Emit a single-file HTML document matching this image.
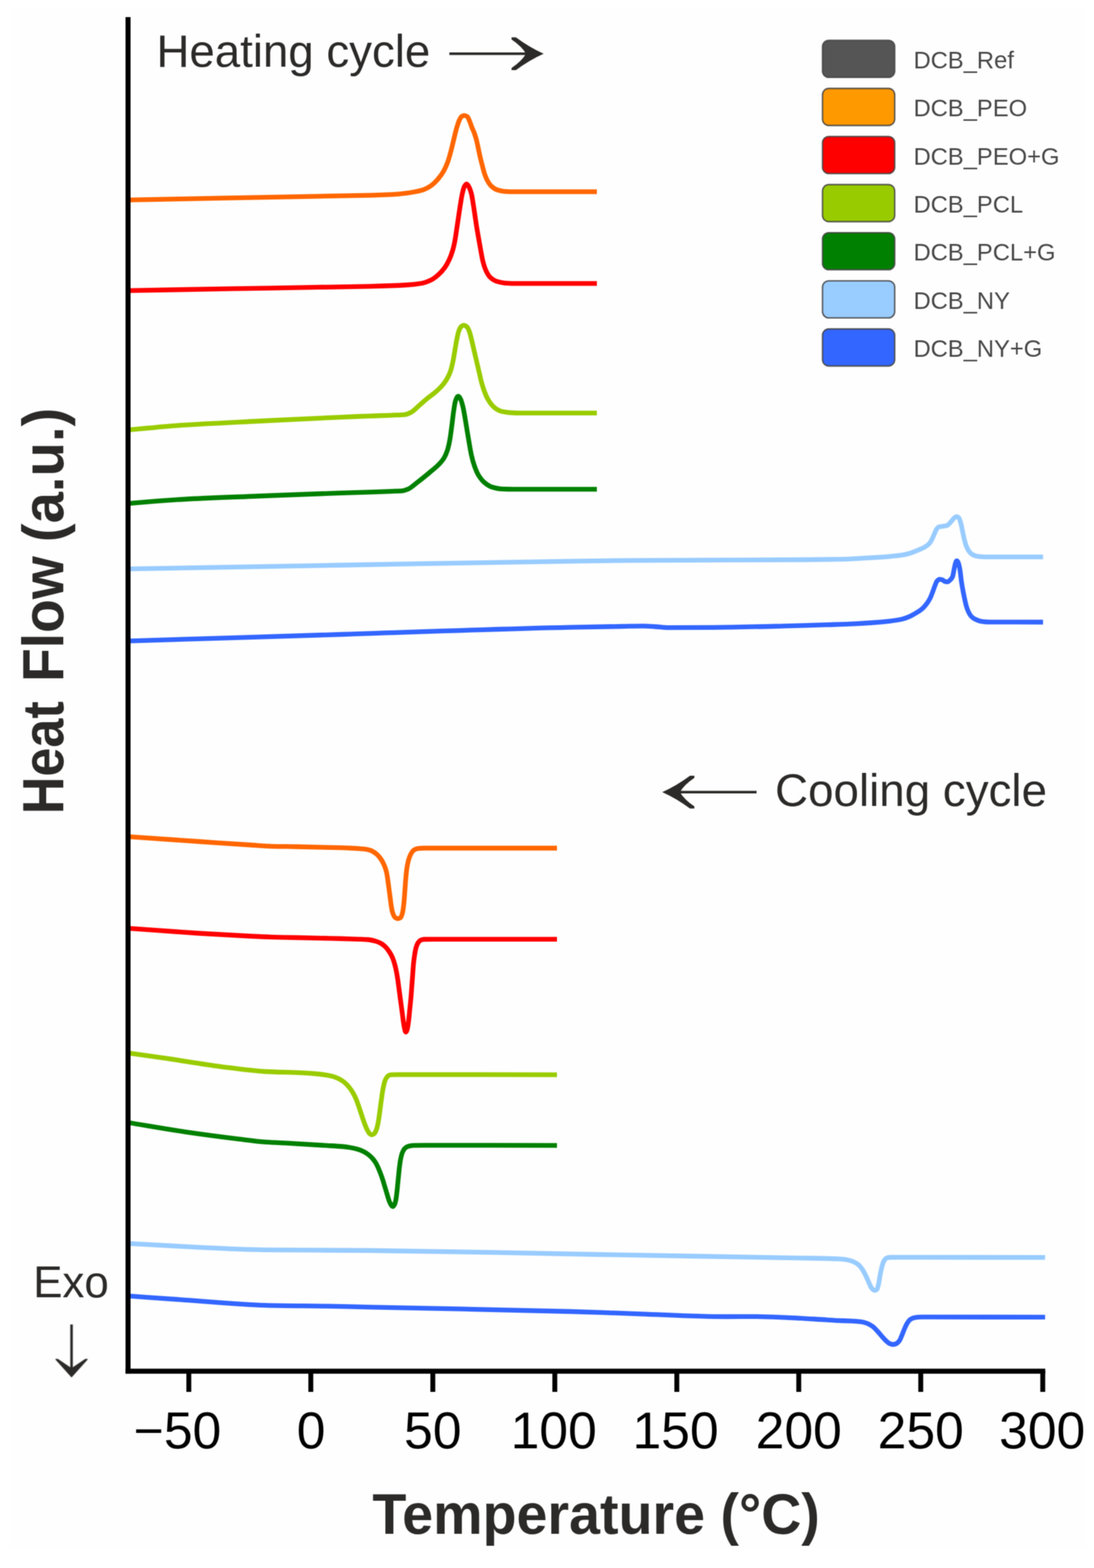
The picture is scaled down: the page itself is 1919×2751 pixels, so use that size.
<!DOCTYPE html>
<html lang="en"><head><meta charset="utf-8"><title>Heat Flow (a.u.) / Temperature (°C)</title>
<style>
html,body{margin:0;padding:0;background:#fff;}
body{width:1919px;height:2751px;overflow:hidden;}
svg{display:block;}
text{font-family:"Liberation Sans",sans-serif;}
.t{fill:#2b2a29;}
.lg{fill:#484848;font-size:41.7px;}
.tk{fill:#000;font-size:90.6px;text-anchor:middle;}
.b{font-weight:bold;}
.c{fill:none;stroke-width:8.3;stroke-linecap:butt;stroke-linejoin:round;}
</style></head><body>
<svg width="1919" height="2751" viewBox="0 0 1919 2751">
<rect x="0" y="0" width="1919" height="2751" fill="#fff"/>
<rect x="15" y="12" width="1892" height="2704" fill="#fefefe"/>
<defs><filter id="soft" x="0" y="0" width="1919" height="2751" filterUnits="userSpaceOnUse" color-interpolation-filters="sRGB"><feConvolveMatrix order="3" kernelMatrix="1 2 1 2 4 2 1 2 1" divisor="16" edgeMode="duplicate" preserveAlpha="false"/></filter></defs>
<g filter="url(#soft)">

<g class="c">
<path stroke="#FF6600" d="M224.6 350.8C283.1 349.7 341.5 348.5 400.0 347.4C453.3 346.4 506.7 345.3 560.0 344.3C590.0 343.7 620.0 343.4 650.0 342.6C666.7 342.1 683.3 341.5 700.0 340.3C708.3 339.7 716.7 338.4 725.0 337.0C730.0 336.2 735.0 335.3 740.0 333.8C745.0 332.3 750.0 329.7 755.0 326.5C759.3 323.7 763.7 319.4 768.0 314.5C771.3 310.8 774.7 306.3 778.0 300.5C780.3 296.5 782.6 291.6 784.9 285.5C786.9 280.2 788.9 272.9 790.9 265.5C792.6 259.4 794.2 251.7 795.9 245.0C797.6 238.3 799.2 230.6 800.9 225.0C802.6 219.4 804.2 213.8 805.9 210.5C807.2 207.8 808.6 205.1 809.9 204.3C811.4 203.4 812.9 202.6 814.4 202.6C816.2 202.6 818.1 203.5 819.9 204.8C821.2 205.7 822.6 209.9 823.9 213.0C825.2 216.1 826.6 220.5 827.9 223.9C829.3 227.5 830.8 230.1 832.2 234.0C833.3 237.1 834.5 240.7 835.6 245.0C836.6 248.8 837.6 253.9 838.6 258.5C839.7 263.6 840.8 269.3 841.9 274.0C843.2 279.8 844.6 284.8 845.9 289.9C847.2 295.0 848.6 300.9 849.9 304.8C851.6 309.7 853.2 313.8 854.9 316.8C857.2 321.0 859.6 324.5 861.9 326.6C865.2 329.6 868.5 331.9 871.8 333.0C876.1 334.4 880.5 335.5 884.8 335.8C889.9 336.1 894.9 336.4 900.0 336.4C949.0 336.4 998.0 336.4 1047.0 336.4"/>
<path stroke="#FF0000" d="M224.6 509.8C283.1 508.8 341.5 507.7 400.0 506.7C453.3 505.8 506.7 504.8 560.0 503.9C590.0 503.4 620.0 503.0 650.0 502.3C670.8 501.8 691.6 501.2 712.4 500.0C721.6 499.5 730.8 498.6 740.0 497.0C745.0 496.1 750.0 494.1 755.0 491.8C759.3 489.8 763.7 486.5 768.0 482.8C772.0 479.4 776.0 475.3 780.0 469.8C782.6 466.2 785.3 461.5 787.9 455.8C789.9 451.5 791.9 446.5 793.9 439.8C795.4 434.7 796.9 428.0 798.4 419.9C799.4 414.5 800.4 406.6 801.4 399.9C802.4 393.2 803.4 386.6 804.4 379.9C805.4 373.2 806.4 366.1 807.4 359.9C808.6 352.7 809.7 345.0 810.9 339.9C812.1 334.8 813.2 329.8 814.4 327.5C815.4 325.5 816.4 324.0 817.4 323.3C817.7 323.1 818.1 322.8 818.4 322.8C818.7 322.8 819.1 323.1 819.4 323.3C820.4 324.0 821.4 325.7 822.4 327.5C823.9 330.2 825.4 334.2 826.9 339.9C828.1 344.3 829.2 352.7 830.4 359.9C831.4 366.1 832.4 373.2 833.4 379.9C834.4 386.6 835.4 393.7 836.4 399.9C837.6 407.1 838.7 413.3 839.9 419.9C841.1 426.5 842.2 433.6 843.4 439.8C844.7 446.9 846.1 454.8 847.4 459.8C849.2 466.6 851.1 472.0 852.9 475.8C855.2 480.5 857.5 484.4 859.8 486.6C863.1 489.8 866.5 492.0 869.8 493.2C874.8 494.9 879.8 496.2 884.8 496.6C889.9 497.0 894.9 497.4 900.0 497.4C949.0 497.4 998.0 497.4 1047.0 497.4"/>
<path stroke="#99CC00" d="M224.6 754.4C236.4 753.3 248.2 752.1 260.0 751.0C273.3 749.8 286.7 748.4 300.0 747.4C310.0 746.6 320.0 745.9 330.0 745.3C370.0 742.8 410.0 741.0 450.0 739.0C500.0 736.5 550.0 733.9 600.0 731.8C616.7 731.1 633.3 730.4 650.0 729.8C663.3 729.3 676.7 729.0 690.0 728.4C697.0 728.1 703.9 728.0 710.9 727.3C714.4 726.9 717.9 725.0 721.4 723.2C726.6 720.5 731.8 714.2 737.0 709.8C742.2 705.4 747.5 700.8 752.7 696.6C755.8 694.1 758.9 692.1 762.0 689.5C766.0 686.2 770.0 682.7 774.0 678.3C777.0 675.0 780.0 671.4 783.0 666.5C785.3 662.7 787.7 658.4 790.0 651.9C791.5 647.8 792.9 641.7 794.4 634.9C795.6 629.5 796.7 621.6 797.9 614.9C799.1 608.2 800.2 600.5 801.4 594.9C802.6 589.3 803.7 583.5 804.9 580.5C806.2 577.0 807.6 574.1 808.9 573.0C810.4 571.7 811.9 570.6 813.4 570.6C815.2 570.6 817.1 571.8 818.9 573.3C820.4 574.5 821.9 578.1 823.4 582.0C824.6 585.0 825.7 590.3 826.9 594.9C828.1 599.5 829.2 604.9 830.4 609.9C831.6 614.9 832.7 619.9 833.9 624.9C835.1 629.9 836.2 634.9 837.4 639.9C838.6 644.9 839.7 649.9 840.9 654.9C842.1 659.9 843.2 665.6 844.4 669.9C845.9 675.5 847.4 680.3 848.9 684.5C850.9 690.0 852.9 695.1 854.9 698.8C857.2 703.2 859.6 706.8 861.9 709.5C864.6 712.6 867.2 715.3 869.9 717.0C873.2 719.1 876.5 721.0 879.8 721.8C884.8 723.0 889.8 723.7 894.8 724.0C899.9 724.3 904.9 724.6 910.0 724.6C955.7 724.6 1001.3 724.6 1047.0 724.6"/>
<path stroke="#008000" d="M224.6 883.4C236.4 882.4 248.2 881.3 260.0 880.4C273.3 879.3 286.7 878.3 300.0 877.4C310.0 876.7 320.0 876.0 330.0 875.5C370.0 873.4 410.0 872.1 450.0 870.5C500.0 868.5 550.0 866.4 600.0 864.8C616.7 864.3 633.3 863.9 650.0 863.3C663.3 862.9 676.7 862.4 690.0 861.8C695.2 861.6 700.5 861.5 705.7 861.1C709.2 860.8 712.6 859.4 716.1 858.0C721.3 855.8 726.6 850.5 731.8 846.5C738.8 841.2 745.7 835.5 752.7 829.7C757.9 825.3 763.2 821.5 768.4 816.2C771.9 812.7 775.3 809.3 778.8 803.6C780.9 800.2 783.0 795.6 785.1 789.0C786.5 784.6 787.9 778.0 789.3 770.2C790.5 763.5 791.7 753.3 792.9 744.1C793.8 737.5 794.6 729.0 795.5 723.1C796.6 715.8 797.6 707.8 798.7 704.3C799.9 700.3 801.2 697.0 802.4 696.0C802.9 695.6 803.3 695.2 803.8 695.2C804.3 695.2 804.7 695.6 805.2 696.0C806.2 696.8 807.1 698.5 808.1 700.5C809.5 703.4 810.9 708.9 812.3 714.8C814.0 722.1 815.8 734.0 817.5 744.1C819.2 754.2 821.0 765.5 822.7 775.4C824.1 783.4 825.5 792.3 826.9 798.4C828.6 806.0 830.4 812.3 832.1 817.2C834.5 824.1 837.0 830.0 839.4 833.9C842.9 839.6 846.5 843.9 850.0 846.8C854.0 850.1 858.0 852.9 862.0 854.2C868.0 856.1 874.0 857.5 880.0 857.8C886.7 858.1 893.3 858.3 900.0 858.3C949.0 858.3 998.0 858.3 1047.0 858.3"/>
<path stroke="#99CCFF" d="M224.6 998.1C349.7 995.9 474.9 993.7 600.0 991.5C740.0 989.1 880.0 986.3 1020.0 984.4C1046.7 984.0 1073.3 983.6 1100.0 983.4C1204.3 982.6 1308.5 982.8 1412.8 982.0C1435.2 981.8 1457.6 981.6 1480.0 981.1C1496.7 980.7 1513.3 979.4 1530.0 978.4C1540.0 977.8 1550.0 977.2 1560.0 976.3C1566.7 975.7 1573.3 975.2 1580.0 974.2C1585.0 973.5 1590.0 972.3 1595.0 970.9C1600.0 969.5 1605.0 967.5 1610.0 965.4C1614.0 963.8 1617.9 962.2 1621.9 959.9C1624.6 958.4 1627.2 956.7 1629.9 953.9C1631.6 952.1 1633.2 949.0 1634.9 945.9C1636.2 943.4 1637.6 939.8 1638.9 936.9C1640.2 934.0 1641.6 930.1 1642.9 928.3C1644.2 926.5 1645.6 924.8 1646.9 924.4C1649.2 923.7 1651.6 923.7 1653.9 923.3C1656.2 922.9 1658.6 922.7 1660.9 922.0C1662.6 921.5 1664.2 919.6 1665.9 918.0C1667.6 916.4 1669.2 913.9 1670.9 912.0C1672.2 910.5 1673.6 908.5 1674.9 907.7C1675.9 907.1 1676.9 906.4 1677.9 906.4C1679.2 906.4 1680.6 907.3 1681.9 908.5C1683.1 909.5 1684.2 914.0 1685.4 918.0C1686.4 921.4 1687.4 927.3 1688.4 931.9C1689.4 936.5 1690.4 941.9 1691.4 945.9C1692.6 950.5 1693.7 955.0 1694.9 957.9C1696.6 962.0 1698.2 965.3 1699.9 967.4C1701.9 969.9 1703.8 971.9 1705.8 973.0C1708.8 974.6 1711.8 975.8 1714.8 976.2C1719.9 976.8 1724.9 977.2 1730.0 977.2C1763.2 977.2 1796.4 977.2 1829.6 977.2"/>
<path stroke="#3366FF" d="M224.6 1124.6C349.7 1120.7 474.9 1116.9 600.0 1113.0C733.3 1108.9 866.7 1103.4 1000.0 1100.6C1030.0 1100.0 1060.0 1099.5 1090.0 1099.0C1102.7 1098.8 1115.3 1098.3 1128.0 1098.3C1135.3 1098.3 1142.7 1099.0 1150.0 1099.5C1157.3 1100.0 1164.7 1101.2 1172.0 1101.2C1198.0 1101.2 1224.0 1101.0 1250.0 1100.8C1291.5 1100.5 1333.0 1099.4 1374.5 1098.4C1399.7 1097.8 1424.8 1097.0 1450.0 1096.2C1466.7 1095.6 1483.3 1095.1 1500.0 1094.3C1510.0 1093.8 1520.0 1093.2 1530.0 1092.5C1540.0 1091.8 1550.0 1090.9 1560.0 1089.8C1566.7 1089.0 1573.3 1088.2 1580.0 1086.8C1585.0 1085.7 1590.0 1083.9 1595.0 1081.8C1599.3 1080.0 1603.7 1077.5 1608.0 1074.8C1611.3 1072.8 1614.6 1070.7 1617.9 1067.8C1620.6 1065.5 1623.2 1062.4 1625.9 1058.8C1627.9 1056.1 1629.9 1052.9 1631.9 1048.8C1633.2 1046.1 1634.6 1042.3 1635.9 1038.8C1637.2 1035.3 1638.6 1031.1 1639.9 1027.8C1641.1 1024.9 1642.2 1021.2 1643.4 1019.8C1644.9 1018.0 1646.4 1016.3 1647.9 1016.3C1649.6 1016.3 1651.2 1016.7 1652.9 1017.2C1654.6 1017.7 1656.2 1020.0 1657.9 1020.3C1659.2 1020.6 1660.6 1020.8 1661.9 1020.8C1663.6 1020.8 1665.2 1018.9 1666.9 1017.3C1668.2 1016.0 1669.6 1014.8 1670.9 1011.8C1671.7 1009.9 1672.6 1003.8 1673.4 999.9C1674.2 996.0 1675.1 991.1 1675.9 988.5C1676.5 986.7 1677.0 984.8 1677.6 984.3C1677.9 984.1 1678.1 983.8 1678.4 983.8C1678.7 983.8 1678.9 984.1 1679.2 984.3C1679.9 984.9 1680.7 986.5 1681.4 988.5C1682.2 990.7 1683.1 995.1 1683.9 999.9C1684.7 1004.7 1685.6 1014.1 1686.4 1019.8C1687.2 1025.5 1688.1 1030.2 1688.9 1034.8C1689.9 1040.3 1690.9 1045.2 1691.9 1049.8C1692.9 1054.4 1693.9 1059.4 1694.9 1062.8C1696.2 1067.3 1697.6 1071.1 1698.9 1073.8C1700.5 1077.1 1702.2 1079.8 1703.8 1081.5C1706.1 1083.9 1708.5 1085.5 1710.8 1086.6C1713.8 1088.1 1716.8 1089.3 1719.8 1089.8C1724.9 1090.6 1729.9 1091.3 1735.0 1091.3C1766.5 1091.5 1798.1 1091.4 1829.6 1091.5"/>
<path stroke="#FF6600" d="M224.6 1467.9C266.4 1470.8 308.2 1473.7 350.0 1476.5C380.0 1478.5 410.0 1480.6 440.0 1482.5C452.3 1483.3 464.7 1484.5 477.0 1484.8C491.3 1485.2 505.7 1485.2 520.0 1485.5C540.0 1485.9 560.0 1486.4 580.0 1486.9C591.7 1487.2 603.3 1487.5 615.0 1488.0C620.0 1488.2 625.0 1488.5 630.0 1488.8C633.3 1489.0 636.7 1489.2 640.0 1489.6C643.3 1490.0 646.7 1490.9 650.0 1492.0C653.3 1493.1 656.7 1495.4 660.0 1498.0C662.7 1500.1 665.3 1503.2 668.0 1507.0C670.0 1509.8 671.9 1513.3 673.9 1517.9C675.2 1521.0 676.6 1524.4 677.9 1529.9C678.7 1533.3 679.6 1539.3 680.4 1544.9C681.1 1549.4 681.7 1554.9 682.4 1559.9C683.1 1564.9 683.7 1569.9 684.4 1574.9C685.1 1579.9 685.7 1586.0 686.4 1589.9C687.2 1594.8 688.1 1599.4 688.9 1601.8C690.2 1605.6 691.6 1608.6 692.9 1609.6C694.6 1610.8 696.2 1611.8 697.9 1611.8C699.6 1611.8 701.2 1610.9 702.9 1609.6C704.1 1608.7 705.2 1604.8 706.4 1599.8C707.2 1596.3 708.1 1588.4 708.9 1579.9C709.4 1574.8 709.9 1566.6 710.4 1559.9C710.9 1553.2 711.4 1545.3 711.9 1539.9C712.6 1532.7 713.2 1526.1 713.9 1521.9C714.9 1515.6 715.9 1511.2 716.9 1507.9C718.2 1503.5 719.6 1500.3 720.9 1498.0C722.6 1495.1 724.2 1492.6 725.9 1491.5C728.2 1490.0 730.6 1488.8 732.9 1488.6C736.9 1488.2 741.0 1488.0 745.0 1488.0C822.3 1488.0 899.7 1488.0 977.0 1488.0"/>
<path stroke="#FF0000" d="M224.6 1628.7C266.4 1631.6 308.2 1634.9 350.0 1637.5C380.0 1639.3 410.0 1641.1 440.0 1642.5C452.3 1643.1 464.7 1643.7 477.0 1644.1C491.3 1644.5 505.7 1644.7 520.0 1645.0C540.0 1645.4 560.0 1645.8 580.0 1646.3C591.7 1646.6 603.3 1646.9 615.0 1647.3C620.0 1647.5 625.0 1647.6 630.0 1647.8C635.0 1648.0 640.0 1648.1 645.0 1648.5C649.3 1648.8 653.7 1649.9 658.0 1651.0C661.3 1651.9 664.7 1653.2 668.0 1655.0C670.6 1656.4 673.3 1658.5 675.9 1661.0C678.2 1663.2 680.6 1666.4 682.9 1669.9C684.7 1672.7 686.6 1675.7 688.4 1679.9C689.7 1683.0 691.1 1687.1 692.4 1691.9C693.4 1695.5 694.4 1699.8 695.4 1704.9C696.2 1709.1 697.1 1714.3 697.9 1719.9C698.6 1724.4 699.2 1729.9 699.9 1734.9C700.6 1739.9 701.2 1744.9 701.9 1749.9C702.6 1754.9 703.2 1759.8 703.9 1764.8C704.6 1769.8 705.2 1774.8 705.9 1779.8C706.6 1784.8 707.2 1790.6 707.9 1794.8C708.6 1799.0 709.2 1803.1 709.9 1805.8C710.3 1807.6 710.8 1809.6 711.2 1810.2C711.4 1810.5 711.7 1810.8 711.9 1810.8C712.1 1810.8 712.4 1810.5 712.6 1810.2C713.2 1809.5 713.8 1807.9 714.4 1805.8C715.2 1802.9 716.1 1796.4 716.9 1789.8C717.6 1784.6 718.2 1776.4 718.9 1769.8C719.6 1763.2 720.2 1757.6 720.9 1749.9C721.4 1744.2 721.9 1736.6 722.4 1729.9C722.9 1723.2 723.4 1716.6 723.9 1709.9C724.4 1703.2 724.9 1694.8 725.4 1689.9C726.1 1683.4 726.7 1679.0 727.4 1674.9C728.2 1669.8 729.1 1664.7 729.9 1662.0C731.1 1658.2 732.2 1655.7 733.4 1654.0C734.9 1651.9 736.4 1650.1 737.9 1649.5C740.2 1648.6 742.6 1648.1 744.9 1648.0C749.9 1647.9 755.0 1647.8 760.0 1647.8C832.3 1647.8 904.7 1647.8 977.0 1647.8"/>
<path stroke="#99CC00" d="M224.6 1847.3C247.6 1850.6 270.6 1853.8 293.6 1857.2C324.8 1861.8 356.1 1867.3 387.3 1871.3C413.3 1874.6 439.3 1878.6 465.3 1880.0C486.1 1881.1 506.9 1881.2 527.7 1882.2C536.8 1882.6 545.9 1883.2 555.0 1884.0C560.0 1884.4 565.0 1885.1 570.0 1885.8C574.0 1886.4 578.0 1887.0 582.0 1888.0C585.7 1888.9 589.3 1890.3 593.0 1892.0C596.3 1893.5 599.7 1895.5 603.0 1898.0C606.0 1900.2 608.9 1903.4 611.9 1906.9C614.2 1909.7 616.6 1913.0 618.9 1916.9C620.7 1920.0 622.6 1923.7 624.4 1927.9C625.9 1931.3 627.4 1935.7 628.9 1939.9C630.2 1943.7 631.6 1947.9 632.9 1951.9C634.2 1955.9 635.6 1960.1 636.9 1963.9C638.2 1967.7 639.6 1971.6 640.9 1974.9C642.2 1978.2 643.6 1981.5 644.9 1983.8C646.2 1986.1 647.6 1988.5 648.9 1989.5C649.9 1990.2 650.9 1991.0 651.9 1991.0C653.2 1991.0 654.6 1990.3 655.9 1989.5C657.2 1988.7 658.6 1986.0 659.9 1982.9C660.9 1980.6 661.9 1976.5 662.9 1971.9C663.6 1968.8 664.2 1964.3 664.9 1959.9C665.6 1955.5 666.2 1949.9 666.9 1944.9C667.6 1939.9 668.2 1934.7 668.9 1929.9C669.6 1925.1 670.2 1919.9 670.9 1915.9C671.7 1910.9 672.6 1906.2 673.4 1902.9C674.4 1899.0 675.4 1895.5 676.4 1893.5C677.7 1890.8 679.1 1888.7 680.4 1887.8C682.2 1886.6 684.1 1885.7 685.9 1885.6C690.6 1885.4 695.3 1885.3 700.0 1885.3C792.3 1885.3 884.7 1885.6 977.0 1885.7"/>
<path stroke="#008000" d="M224.6 1969.5C258.0 1974.9 291.4 1980.9 324.8 1985.8C356.0 1990.4 387.3 1994.5 418.5 1998.3C434.1 2000.2 449.7 2002.5 465.3 2003.6C480.9 2004.7 496.5 2005.2 512.1 2006.1C532.9 2007.3 553.7 2008.6 574.5 2009.9C583.0 2010.4 591.5 2010.8 600.0 2011.5C605.0 2011.9 610.0 2012.6 615.0 2013.5C619.3 2014.2 623.7 2015.2 628.0 2016.5C631.3 2017.5 634.7 2018.9 638.0 2020.5C640.6 2021.8 643.3 2023.5 645.9 2025.5C648.2 2027.3 650.6 2029.4 652.9 2031.9C654.9 2034.1 656.9 2036.7 658.9 2039.9C660.6 2042.6 662.2 2046.2 663.9 2049.9C665.2 2052.9 666.6 2056.3 667.9 2059.9C669.1 2063.0 670.2 2066.3 671.4 2069.9C672.4 2073.0 673.4 2076.6 674.4 2079.9C675.4 2083.2 676.4 2086.6 677.4 2089.9C678.4 2093.2 679.4 2096.7 680.4 2099.9C681.4 2103.1 682.4 2106.6 683.4 2108.9C684.4 2111.2 685.4 2113.4 686.4 2114.6C687.2 2115.6 688.1 2116.8 688.9 2116.8C689.9 2116.8 690.9 2115.4 691.9 2113.8C692.7 2112.5 693.6 2109.0 694.4 2104.9C695.1 2101.6 695.7 2095.7 696.4 2089.9C696.9 2085.6 697.4 2079.9 697.9 2074.9C698.4 2069.9 698.9 2064.7 699.4 2059.9C699.9 2055.1 700.4 2049.8 700.9 2045.9C701.6 2040.7 702.2 2036.1 702.9 2032.9C703.9 2028.1 704.9 2024.4 705.9 2022.0C707.2 2018.8 708.6 2016.3 709.9 2015.0C711.9 2013.1 713.9 2011.9 715.9 2011.3C718.9 2010.4 721.9 2009.7 724.9 2009.6C731.6 2009.4 738.3 2009.3 745.0 2009.3C822.3 2009.3 899.7 2009.5 977.0 2009.6"/>
<path stroke="#99CCFF" d="M224.6 2181.6C258.0 2183.4 291.4 2185.5 324.8 2187.1C371.6 2189.3 418.5 2192.3 465.3 2192.8C526.9 2193.5 588.4 2193.4 650.0 2194.0C783.3 2195.2 916.7 2198.7 1050.0 2201.0C1166.7 2203.0 1283.3 2205.0 1400.0 2207.1C1416.7 2207.4 1433.3 2207.6 1450.0 2208.0C1456.7 2208.2 1463.3 2208.4 1470.0 2208.7C1474.5 2208.9 1479.0 2209.2 1483.5 2209.8C1487.2 2210.3 1491.0 2211.3 1494.7 2212.6C1498.1 2213.8 1501.4 2215.7 1504.8 2218.2C1507.4 2220.2 1510.1 2223.5 1512.7 2227.2C1514.6 2229.8 1516.4 2233.6 1518.3 2237.3C1520.0 2240.7 1521.7 2244.8 1523.4 2248.5C1524.9 2251.8 1526.4 2256.1 1527.9 2258.3C1529.2 2260.2 1530.5 2262.1 1531.8 2262.8C1532.9 2263.4 1534.1 2264.0 1535.2 2264.0C1536.3 2264.0 1537.4 2263.2 1538.5 2262.0C1539.4 2261.0 1540.4 2256.1 1541.3 2251.9C1542.1 2248.4 1542.8 2242.5 1543.6 2238.4C1544.5 2233.4 1545.5 2228.6 1546.4 2224.9C1547.5 2220.4 1548.7 2215.9 1549.8 2213.7C1551.3 2210.8 1552.8 2208.4 1554.3 2207.7C1556.5 2206.7 1558.8 2206.0 1561.0 2206.0C1567.3 2205.9 1573.7 2205.9 1580.0 2205.9C1664.4 2205.9 1748.8 2206.1 1833.2 2206.2"/>
<path stroke="#3366FF" d="M224.6 2273.6C258.0 2276.0 291.4 2278.5 324.8 2280.8C371.6 2284.0 418.5 2289.0 465.3 2290.1C501.7 2291.0 538.1 2291.1 574.5 2291.7C599.7 2292.1 624.8 2292.8 650.0 2293.3C766.7 2295.8 883.3 2297.8 1000.0 2301.0C1041.7 2302.2 1083.3 2303.8 1125.0 2305.3C1163.3 2306.7 1201.7 2309.0 1240.0 2309.6C1251.7 2309.8 1263.3 2310.0 1275.0 2310.0C1290.0 2310.0 1305.0 2309.8 1320.0 2309.8C1338.2 2309.8 1356.3 2310.6 1374.5 2311.3C1399.7 2312.2 1424.8 2314.1 1450.0 2315.6C1456.7 2316.0 1463.3 2316.6 1470.0 2316.9C1477.5 2317.2 1485.0 2317.3 1492.5 2317.6C1498.1 2317.8 1503.7 2318.2 1509.3 2318.8C1513.1 2319.2 1516.8 2320.3 1520.6 2321.6C1524.0 2322.8 1527.3 2324.8 1530.7 2327.2C1533.7 2329.4 1536.7 2333.0 1539.7 2336.2C1542.3 2339.0 1544.9 2342.3 1547.5 2345.2C1549.8 2347.7 1552.0 2350.5 1554.3 2352.5C1556.5 2354.4 1558.8 2356.6 1561.0 2357.4C1562.9 2358.1 1564.7 2358.8 1566.6 2358.8C1568.5 2358.8 1570.3 2358.1 1572.2 2357.4C1574.1 2356.6 1576.0 2354.5 1577.9 2351.9C1579.4 2349.8 1580.9 2345.3 1582.4 2341.8C1583.9 2338.3 1585.4 2334.0 1586.9 2330.6C1588.4 2327.3 1589.8 2323.8 1591.3 2321.6C1593.2 2318.7 1595.1 2316.0 1597.0 2314.8C1599.6 2313.2 1602.2 2312.1 1604.8 2311.7C1608.6 2311.1 1612.3 2310.7 1616.1 2310.7C1624.1 2310.7 1632.0 2310.7 1640.0 2310.7C1704.4 2310.7 1768.8 2310.8 1833.2 2310.9"/>
</g>
<g fill="#000">
<rect x="220.2" y="30" width="8.8" height="2380.1"/>
<rect x="220.2" y="2401.3" width="1613.3" height="8.8"/>
<rect x="326.9" y="2405.7" width="8.6" height="36.3"/>
<rect x="540.9" y="2405.7" width="8.6" height="36.3"/>
<rect x="754.9" y="2405.7" width="8.6" height="36.3"/>
<rect x="968.9" y="2405.7" width="8.6" height="36.3"/>
<rect x="1182.9" y="2405.7" width="8.6" height="36.3"/>
<rect x="1396.8" y="2405.7" width="8.6" height="36.3"/>
<rect x="1610.8" y="2405.7" width="8.6" height="36.3"/>
<rect x="1824.8" y="2405.7" width="8.6" height="36.3"/>
</g>
<text class="tk" x="545.8" y="2541.4">0</text>
<text class="tk" x="759.2" y="2541.4">50</text>
<text class="tk" x="971.3" y="2541.4">100</text>
<text class="tk" x="1185.0" y="2541.4">150</text>
<text class="tk" x="1401.1" y="2541.4">200</text>
<text class="tk" x="1615.1" y="2541.4">250</text>
<text class="tk" x="1828.1" y="2541.4">300</text>
<text class="tk" style="text-anchor:end" x="388.2" y="2541.4">−50</text>
<g class="t" transform="translate(953.6 94.3) rotate(0)"><path d="M-165.4 -2.3H-30V2.3H-165.4Z"/><path d="M-48.6 -28.8H-56.3V-25Q-38.5 -13 -30.9 0Q-38.5 13 -56.3 25V28.8H-48.6Q-25.7 11.65 0 0Q-25.7 -11.65 -48.6 -28.8Z"/></g>
<g class="t" transform="translate(1161.7 1389.7) rotate(180)"><path d="M-165.4 -2.3H-30V2.3H-165.4Z"/><path d="M-48.6 -28.8H-56.3V-25Q-38.5 -13 -30.9 0Q-38.5 13 -56.3 25V28.8H-48.6Q-25.7 11.65 0 0Q-25.7 -11.65 -48.6 -28.8Z"/></g>
<g class="t" transform="translate(125.5 2416.8) rotate(90)"><path d="M-93.1 -2.25H-16V2.25H-93.1Z"/><path d="M-32.7 -28.2L-31.5 -28.2L0 0L-31.5 28.2L-32.7 28.2L-32.7 24L-16.5 0L-32.7 -24Z"/></g>
<text class="t" x="274.5" y="116.8" font-size="80">Heating cycle</text>
<text class="t" x="1359.6" y="1413.9" font-size="80.2">Cooling cycle</text>
<text class="t" x="58.2" y="2275.5" font-size="77">Exo</text>
<text class="t b" transform="translate(653.3 2691.2) scale(0.975 1)" font-size="100">Temperature (°C)</text>
<text class="t b" transform="translate(111 0) rotate(-90)" y="0" font-size="102"><tspan x="-1428.6" textLength="198.3" lengthAdjust="spacingAndGlyphs">Heat</tspan> <tspan x="-1196.6" textLength="220.7" lengthAdjust="spacingAndGlyphs">Flow</tspan> <tspan x="-951.2" textLength="235.9" lengthAdjust="spacingAndGlyphs">(a.u.)</tspan></text>
<rect x="1442.8" y="70.7" width="126.6" height="65" rx="11" ry="11" fill="#555555" stroke="#444" stroke-opacity="0.85" stroke-width="2.6"/>
<text class="lg" x="1602.4" y="119.8">DCB_Ref</text>
<rect x="1442.8" y="155.1" width="126.6" height="65" rx="11" ry="11" fill="#FF9900" stroke="#444" stroke-opacity="0.85" stroke-width="2.6"/>
<text class="lg" x="1602.4" y="204.2">DCB_PEO</text>
<rect x="1442.8" y="239.5" width="126.6" height="65" rx="11" ry="11" fill="#FF0000" stroke="#444" stroke-opacity="0.85" stroke-width="2.6"/>
<text class="lg" x="1602.4" y="288.6">DCB_PEO+G</text>
<rect x="1442.8" y="323.9" width="126.6" height="65" rx="11" ry="11" fill="#99CC00" stroke="#444" stroke-opacity="0.85" stroke-width="2.6"/>
<text class="lg" x="1602.4" y="373.0">DCB_PCL</text>
<rect x="1442.8" y="408.3" width="126.6" height="65" rx="11" ry="11" fill="#008000" stroke="#444" stroke-opacity="0.85" stroke-width="2.6"/>
<text class="lg" x="1602.4" y="457.4">DCB_PCL+G</text>
<rect x="1442.8" y="492.7" width="126.6" height="65" rx="11" ry="11" fill="#99CCFF" stroke="#444" stroke-opacity="0.85" stroke-width="2.6"/>
<text class="lg" x="1602.4" y="541.8">DCB_NY</text>
<rect x="1442.8" y="577.1" width="126.6" height="65" rx="11" ry="11" fill="#3366FF" stroke="#444" stroke-opacity="0.85" stroke-width="2.6"/>
<text class="lg" x="1602.4" y="626.2">DCB_NY+G</text>
</g>
</svg>
</body></html>
